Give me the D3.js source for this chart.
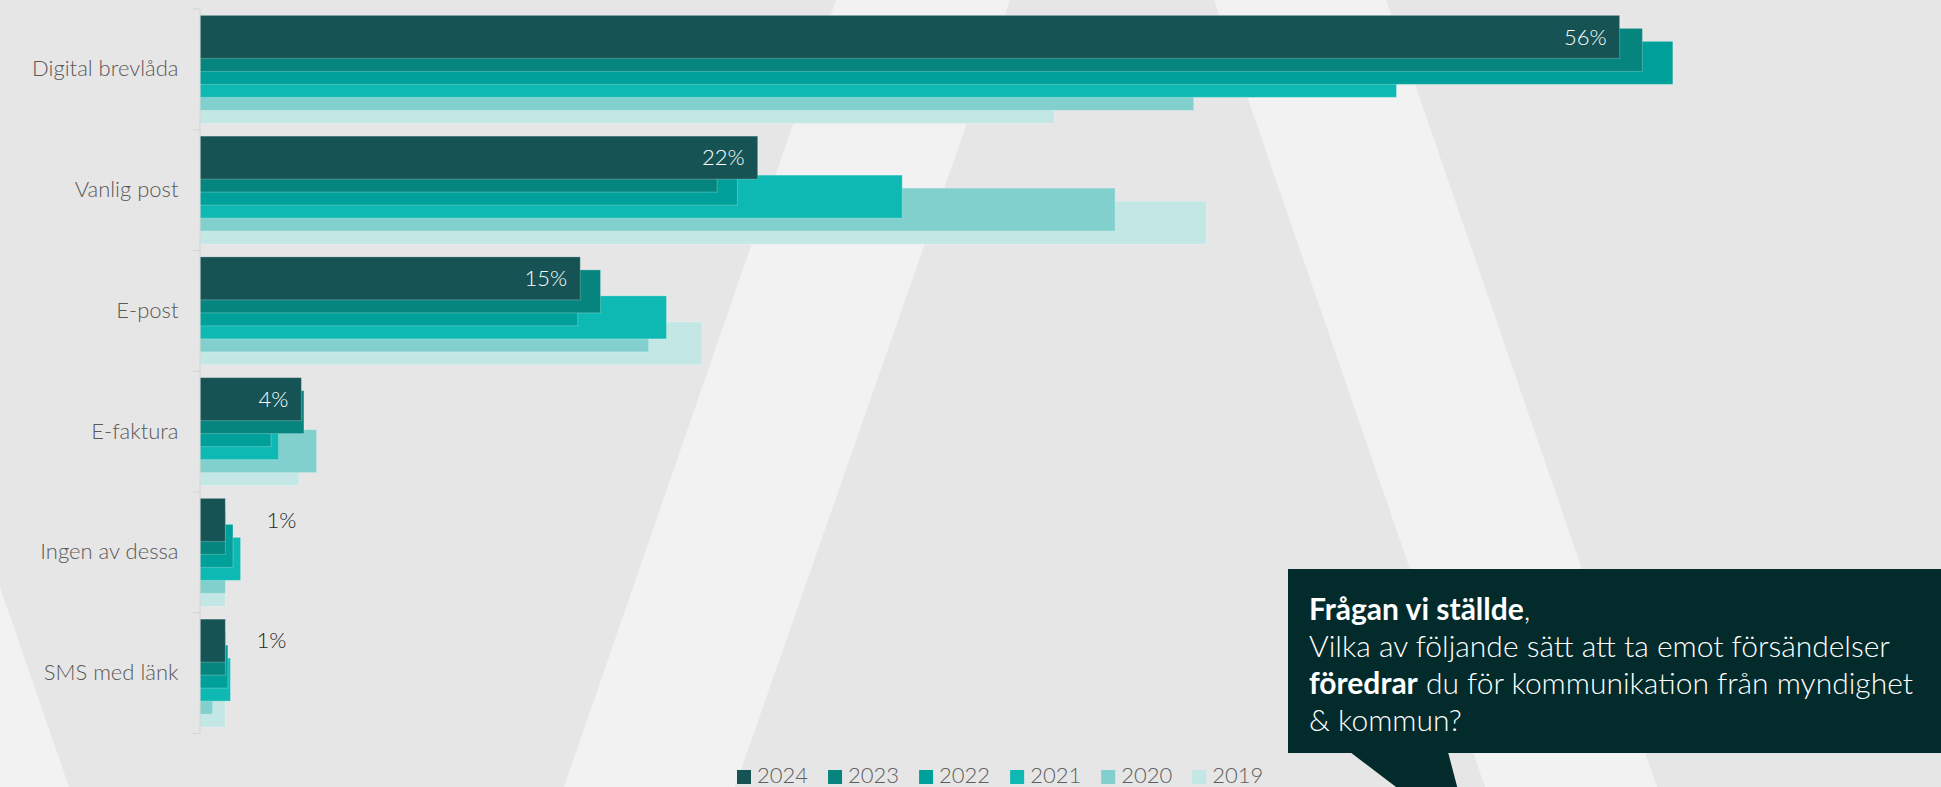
<!DOCTYPE html>
<html>
<head>
<meta charset="utf-8">
<script src="https://cdn.jsdelivr.net/npm/d3@7"></script>
<style>
  html, body { margin: 0; padding: 0; background: #e6e6e6; overflow: hidden; }
  svg { display: block; font-family: Lato, "Open Sans", sans-serif; }
</style>
</head>
<body>
<svg id="chart" width="1941" height="787"></svg>
<script>
// Preferred ways to receive mail from authorities, share of respondents (%)
const categories = ["Digital brevlåda", "Vanlig post", "E-post", "E-faktura", "Ingen av dessa", "SMS med länk"];
const years = ["2024", "2023", "2022", "2021", "2020", "2019"];
const values2024 = [56, 22, 15, 4, 1, 1];
const values2023 = [56.9, 20.4, 15.8, 4.1, 1.0, 1.0];
const values2022 = [58.1, 21.2, 14.9, 2.8, 1.3, 1.1];
const values2021 = [47.2, 27.7, 18.4, 3.1, 1.6, 1.2];
const values2020 = [39.2, 36.1, 17.7, 4.6, 1.0, 0.5];
const values2019 = [33.7, 39.7, 19.8, 3.9, 1.0, 1.0];
const yearColors = ["#165355", "#05857e", "#00a09a", "#0fb9b3", "#81d0cd", "#c3e7e5"];

const questionLines = [
  [{ t: "Frågan vi ställde", b: true }, { t: ",", b: false }],
  [{ t: "Vilka av följande sätt att ta emot försändelser", b: false }],
  [{ t: "föredrar", b: true }, { t: " du för kommunikation från myndighet", b: false }],
  [{ t: "& kommun?", b: false }]
];

const seriesValues = [values2024, values2023, values2022, values2021, values2020, values2019];
const W = 1941, H = 787;
const svg = d3.select("#chart");

// decorative light stripes in the page background
const stripes = [
  [[0, 587], [69, 787], [0, 787]],
  [[836, 0], [1010, 0], [735, 787], [564, 787]],
  [[1214, 0], [1386, 0], [1657, 787], [1485, 787]]
];
svg.append("rect").attr("width", W).attr("height", H).attr("fill", "#e6e6e6");
svg.append("g").selectAll("polygon").data(stripes).join("polygon")
  .attr("points", d => d.map(p => p.join(",")).join(" "))
  .attr("fill", "#f2f2f2");

// scales
const x = d3.scaleLinear().domain([0, 60]).range([200, 200 + 60 * 25.35]);
const y = d3.scaleBand().domain(categories).range([9, 733.5]);
const barH = 43;
const offset = d3.scalePoint().domain(years).range([0, 65]);
const groupPad = (y.bandwidth() - (65 + barH)) / 2;

// bars: oldest year at the back, newest in front
const bars = svg.append("g");
years.slice().reverse().forEach(yr => {
  const yi = years.indexOf(yr);
  bars.append("g").selectAll("rect")
    .data(categories.map((c, i) => ({ c, v: seriesValues[yi][i] })))
    .join("rect")
    .attr("x", x(0))
    .attr("y", d => y(d.c) + groupPad + offset(yr))
    .attr("width", d => x(d.v) - x(0))
    .attr("height", barH)
    .attr("fill", yearColors[yi])
    .attr("stroke", "rgba(255,255,255,0.25)")
    .attr("stroke-width", 1);
});

// category axis
const axis = svg.append("g")
  .attr("transform", `translate(${x(0) - 0.5},0)`)
  .call(d3.axisLeft(y).tickSize(0).tickSizeOuter(0).tickPadding(21));
axis.select(".domain").attr("stroke", "#d2d2d2");
axis.selectAll("text")
  .attr("font-size", 22).attr("fill", "#5a5856")
  .attr("font-weight", 300)
  .attr("font-family", "Lato, sans-serif");
const bounds = categories.map(c => y(c)).concat([y(categories[categories.length - 1]) + y.bandwidth()]);
axis.append("g").selectAll("line").data(bounds).join("line")
  .attr("x1", -7).attr("x2", 0)
  .attr("y1", d => d).attr("y2", d => d)
  .attr("stroke", "#d2d2d2");

// value labels for the latest year
const labels = svg.append("g").attr("font-size", 22).attr("font-weight", 300);
categories.forEach((c, i) => {
  const v = values2024[i];
  const cy = y(c) + groupPad + offset("2024") + barH / 2;
  const inside = x(v) - x(0) > 60;
  const maxV = d3.max(seriesValues, s => s[i]);
  labels.append("text")
    .attr("x", inside ? x(v) - 13 : x(maxV) + 26)
    .attr("y", cy)
    .attr("dy", "0.35em")
    .attr("text-anchor", inside ? "end" : "start")
    .attr("fill", inside ? "#ffffff" : "#252423")
    .text(v + "%");
});

// legend
const legend = svg.append("g").attr("transform", "translate(737,0)");
let lx = 0;
years.forEach((yr, i) => {
  const g = legend.append("g").attr("transform", `translate(${lx},0)`);
  g.append("rect").attr("x", 0).attr("y", 770).attr("width", 14).attr("height", 14).attr("fill", yearColors[i]);
  const t = g.append("text").attr("x", 20).attr("y", 782.5)
    .attr("font-size", 22).attr("font-weight", 300).attr("fill", "#605e5c").text(yr);
  lx += 20 + t.node().getComputedTextLength() + 20;
});

// question box with its pointer
const box = svg.append("g");
box.append("polygon")
  .attr("points", "1350,752 1448,752 1458,790 1400,790")
  .attr("fill", "#032b2b");
box.append("rect").attr("x", 1288).attr("y", 569).attr("width", W - 1288).attr("height", 184).attr("fill", "#032b2b");
const qt = box.append("text").attr("font-size", 30).attr("fill", "#ffffff");
questionLines.forEach((line, li) => {
  line.forEach((part, pi) => {
    const ts = qt.append("tspan")
      .attr("font-weight", part.b ? 700 : 300)
      .text(part.t);
    if (pi === 0) ts.attr("x", 1309).attr("y", 620 + li * 37);
  });
});
</script>
</body>
</html>
